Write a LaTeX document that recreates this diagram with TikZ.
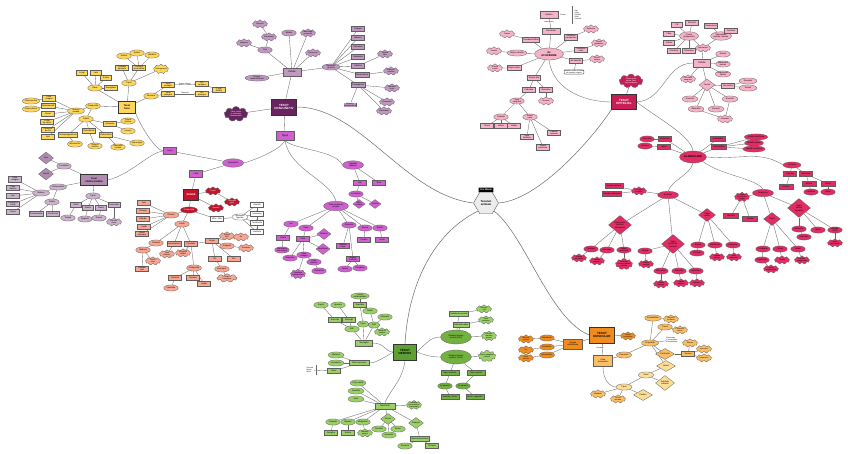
\documentclass[tikz,border=0pt]{standalone}
\usepackage{fontspec}
\setmainfont{Liberation Sans}
\usetikzlibrary{shapes.geometric,shapes.symbols,shapes.misc,arrows.meta}
\definecolor{bord}{RGB}{95,95,95}
\definecolor{linec}{RGB}{105,105,105}
\definecolor{yel}{RGB}{255,214,92}
\definecolor{lav}{RGB}{205,178,205}
\definecolor{lavm}{RGB}{175,140,175}
\definecolor{conj}{RGB}{105,35,95}
\definecolor{mauve}{RGB}{192,152,192}
\definecolor{mag}{RGB}{208,95,208}
\definecolor{redc}{RGB}{195,20,45}
\definecolor{sal}{RGB}{248,165,145}
\definecolor{pnk}{RGB}{246,178,198}
\definecolor{crim}{RGB}{200,30,85}
\definecolor{glan}{RGB}{225,45,100}
\definecolor{grn}{RGB}{155,208,105}
\definecolor{grnM}{RGB}{115,178,65}
\definecolor{grnD}{RGB}{95,160,50}
\definecolor{org}{RGB}{240,140,30}
\definecolor{lorg}{RGB}{252,190,100}
\definecolor{porg}{RGB}{253,222,150}
\definecolor{hexf}{RGB}{236,236,236}
\pgfdeclarelayer{bg}
\pgfsetlayers{bg,main}
\newcommand\nn[4]{\node[#1] (#2) at (#3) {#4};}
\newcommand\Edges[1]{\begin{pgfonlayer}{bg}\foreach \a/\b in {#1} \draw[conn] (\a) -- (\b);\end{pgfonlayer}}
\tikzset{
  nd/.style={draw=bord, line width=0.3pt, font=\fontsize{2.1}{2.4}\selectfont, align=center, inner xsep=0.8pt, inner ysep=0.5pt},
  bx/.style={nd, rectangle, minimum width=13, minimum height=5},
  el/.style={nd, ellipse, inner xsep=0pt, inner ysep=0pt, minimum width=14.5, minimum height=6.2},
  cl/.style={nd, cloud, cloud puffs=9, aspect=2.2, inner sep=-0.7pt, minimum width=15, minimum height=8.5, font=\fontsize{1.9}{2.1}\selectfont},
  dm/.style={nd, diamond, aspect=1.4, inner sep=0pt, minimum width=12, minimum height=9},
  mn/.style={draw=black!80, line width=0.5pt, font=\fontsize{3}{3.4}\selectfont\bfseries, align=center, minimum width=22, minimum height=14, inner sep=0.8pt},
  conn/.style={draw=linec, line width=0.35pt},
  bigc/.style={draw=linec, line width=0.5pt},
  note/.style={font=\fontsize{1.8}{2.1}\selectfont, align=left, inner sep=0.3pt},
  yf/.style={fill=yel}, lf/.style={fill=lav}, pf/.style={fill=mauve}, mf/.style={fill=mag},
  rf/.style={fill=redc,text=white}, sf/.style={fill=sal}, kf/.style={fill=pnk}, gf/.style={fill=glan},
  nf/.style={fill=grn}, nmf/.style={fill=grnM}, of/.style={fill=org}, lof/.style={fill=lorg}, pof/.style={fill=porg},
  wf/.style={fill=white},
}
\begin{document}
\begin{tikzpicture}[x=1bp,y=-1bp]
\useasboundingbox (0,0) rectangle (848,454);
\begin{pgfonlayer}{bg}
\fill[white] (0,0) rectangle (848,454);
\end{pgfonlayer}

% ---------- centre ----------
\node[fill=black, text=white, font=\fontsize{2.4}{2.8}\selectfont\bfseries, inner sep=1pt, minimum width=15, minimum height=5, rounded corners=0.6] (tag) at (486,190) {Vox Mania};
\node[regular polygon, regular polygon sides=6, draw=bord, fill=hexf, minimum size=25, inner sep=0pt, font=\fontsize{2.8}{3.2}\selectfont\bfseries, align=center, line width=0.4pt] (hx) at (486,203) {Tesuturi\\animale};

% ---------- main nodes ----------
\nn{mn,fill=conj,text=white,minimum width=25,minimum height=16}{p0}{284,107}{TESUT\\CONJUNCTIV}
\nn{mn,fill=crim,text=white,minimum width=25,minimum height=15}{e0}{624,102}{TESUT\\EPITELIAL}
\nn{mn,fill=grnD,text=black,minimum width=23,minimum height=16}{n0}{405,352}{TESUT\\NERVOS}
\nn{mn,fill=org,text=black,minimum width=25,minimum height=16}{o0}{602,335}{TESUT\\MUSCULAR}

\begin{pgfonlayer}{bg}
\draw[bigc] (p0.east) .. controls (360,107) and (405,195) .. (hx.west);
\draw[bigc] (e0.south west) .. controls (595,135) and (540,200) .. (hx.east);
\draw[bigc] (hx.south west) .. controls (430,235) and (408,290) .. (n0.north);
\draw[bigc] (hx.south east) .. controls (525,235) and (550,320) .. (o0.west);
\end{pgfonlayer}

% ---------- conjunctiv ----------
\nn{cl,fill=conj,text=white,minimum width=24,minimum height=15}{pc}{236,114}{Fibre, celule\\si substanta\\fundamentala}
\nn{bx,pf,minimum width=18,minimum height=8,font=\fontsize{2.6}{3}\selectfont}{p1}{292,72}{Celule}
\nn{el,pf}{p2}{265,50}{Fixe}
\nn{cl,pf}{p3}{269,37}{Fibroblaste}
\nn{cl,pf}{p4}{260,24}{Fibrocite}
\nn{cl,pf}{p5}{244,43}{Adipocite}
\nn{el,pf}{p6}{289,33}{Mobile}
\nn{cl,pf}{p7}{308,33}{Macrofage\\mastocite}
\nn{cl,pf}{p8}{313,53}{Plasmocite}
\nn{el,pf,minimum width=24}{p9}{257,78}{Origine\\mezenchimala}
\nn{el,pf,minimum width=18}{p10}{331,67}{Elemente\\de baza}
\nn{bx,pf}{p11}{358,29}{Colagen}
\nn{bx,pf}{p12}{358,38}{Elastice}
\nn{bx,pf}{p13}{358,47}{Reticulare}
\nn{bx,pf}{p14}{358,57}{Substanta}
\nn{bx,pf}{p15}{358,66}{Fibrilina}
\nn{bx,pf}{p16}{362,75}{Glicoproteine}
\nn{bx,pf}{p17}{358,85}{Proteoglicani}
\nn{cl,pf}{p18}{385,54}{Sinteza\\fibre}
\nn{cl,pf}{p19}{391,71}{Adeziune\\celulara}
\nn{cl,pf}{p20}{392,88}{Hidratare\\tesut}
\nn{cl,pf}{p21}{387,102}{Rezistenta}
\nn{cl,pf}{p22}{384,111}{Elasticitate}
\nn{bx,pf,double,double distance=0.4pt}{p23}{350,105}{Matrice\\extracelulara}
\Edges{p0/pc,p0/p1,p1/p2,p2/p3,p3/p4,p2/p5,p1/p6,p1/p7,p1/p8,p1/p9,p1/p10,p10/p11,p10/p12,p10/p13,p10/p14,p10/p15,p10/p16,p10/p17,p15/p18,p16/p19,p17/p20,p17/p21,p17/p22,p17/p23}

% ---------- tipuri (magenta) ----------
\nn{bx,mf,minimum width=18,minimum height=9,font=\fontsize{2.6}{3}\selectfont}{m0}{285,136}{Tipuri}
\nn{el,mf,minimum width=21,minimum height=8.5}{m1}{233,163}{Specializat}
\nn{bx,mf,minimum height=7}{m2}{170,151}{Tipuri}
\nn{bx,mf,minimum height=7}{m3}{196,174}{Fluid}
\nn{el,mf,minimum width=21,minimum height=8.5}{m4}{353,165}{Semidur\\(adipos)}
\nn{bx,mf}{m5}{360,183}{Alb}
\nn{bx,mf}{m6}{379,183}{Brun}
\nn{el,mf}{m7}{356,194}{Localizare}
\nn{dm,mf}{m8}{359,204}{Sub-\\cutanat}
\nn{dm,mf}{m9}{375,204}{Viscere}
\nn{el,mf,minimum width=25,minimum height=9.5}{m10}{336,206}{Tesut conjunctiv\\propriu}
\nn{el,mf}{m11}{291,224}{Lax}
\nn{el,mf}{m12}{306,228}{Dens}
\nn{dm,mf,minimum width=14,minimum height=11}{m13}{324,234}{Ordonat}
\nn{dm,mf,minimum width=14,minimum height=11}{m14}{323,249}{Neordonat}
\nn{bx,mf}{m15}{303,239}{Fibre}
\nn{bx,mf}{m16}{283,238}{Celule}
\nn{el,mf}{m17}{282,250}{Fibroblaste\\macrofage}
\nn{el,mf}{m18}{290,258}{Mastocite}
\nn{el,mf}{m19}{304,255}{Fibre\\colagen}
\nn{el,mf}{m20}{314,262}{Fibre\\elastice}
\nn{cl,mf}{m21}{298,274}{Substanta\\fundamentala}
\nn{el,mf}{m22}{319,271}{Reticulina}
\nn{el,mf}{m23}{349,225}{Reticulat}
\nn{bx,mf}{m24}{343,246}{Maduva\\rosie}
\nn{bx,mf}{m25}{353,259}{Organe\\limfoide}
\nn{el,mf}{m26}{345,269}{Splina}
\nn{el,mf}{m27}{360,268}{Ganglioni}
\nn{el,mf}{m28}{365,228}{Mucos}
\nn{bx,mf}{m29}{364,240}{Cordon}
\nn{el,mf}{m30}{380,228}{Elastic}
\nn{bx,mf}{m31}{382,240}{Aorta}
\Edges{p0/m0,m1/m2,m1/m3,m4/m5,m4/m6,m5/m7,m7/m8,m7/m9,m10/m11,m10/m12,m10/m23,m10/m28,m10/m30,m11/m16,m16/m17,m12/m15,m15/m13,m15/m14,m15/m18,m15/m19,m19/m20,m19/m21,m20/m22,m23/m24,m23/m25,m25/m26,m25/m27,m28/m29,m30/m31}
\begin{pgfonlayer}{bg}
\draw[conn] (m0.south) .. controls (280,150) and (255,160) .. (m1.east);
\draw[conn] (m0.south) .. controls (295,150) and (335,150) .. (m4.west);
\draw[conn] (m0.south) .. controls (290,170) and (330,180) .. (m10.north);
\end{pgfonlayer}

% ---------- osos (yellow) ----------
\nn{mn,fill=yel,minimum width=17,minimum height=12,font=\fontsize{2.5}{2.9}\selectfont\bfseries}{y0}{127,107}{Tesut\\Osos}
\nn{el,yf}{y1}{129,83}{Tipuri}
\nn{bx,yf}{y2}{122,68}{Osificare\\desmala}
\nn{bx,yf}{y3}{139,68}{Osificare\\encondrala}
\nn{cl,yf}{y4}{161,69}{Osteogeneza}
\nn{el,yf}{y5}{124,56}{Diafiza}
\nn{el,yf}{y6}{137,53}{Epifiza}
\nn{el,yf}{y7}{152,55}{Metafiza}
\nn{el,yf}{y8}{95,88}{Oase}
\nn{bx,yf,minimum width=11}{y9}{82,73}{Lungi}
\nn{bx,yf,minimum width=11}{y10}{96,73}{Late}
\nn{bx,yf,minimum width=11}{y11}{106,78}{Scurte}
\nn{bx,yf}{y12}{111,88}{Neregulate}
\nn{el,yf}{y13}{151,96}{Structura}
\nn{bx,yf}{y14}{168,85}{Tesut\\compact}
\nn{bx,yf}{y15}{168,94}{Tesut\\spongios}
\nn{bx,yf}{y16}{202,84}{Os\\compact}
\nn{bx,yf}{y17}{202,94}{Os\\spongios}
\nn{bx,yf}{y18}{219,90}{F. epif.\\diafiza}
\nn{el,yf}{y20}{93,106}{Compozitie}
\nn{el,yf,minimum width=17}{y21}{76,111}{Matrice\\osoasa}
\nn{bx,yf}{y22}{49,98}{Fibre\\colagen}
\nn{bx,yf}{y23}{48,106}{Osteomucoid}
\nn{bx,yf}{y24}{48,114}{Saruri}
\nn{bx,yf}{y25}{47,122}{Fosfat\\de calciu}
\nn{bx,yf}{y26}{48,129.5}{Carbonat\\de Ca}
\nn{bx,yf}{y27}{48,137}{Apa}
\nn{el,yf}{y28}{31,101}{Osteonectina}
\nn{el,yf}{y29}{31,109}{Osteocalcina}
\nn{el,yf}{y30}{86,119}{Celule}
\nn{bx,yf}{y31}{110,124}{Osteocite}
\nn{bx,yf,minimum width=18}{y32}{68,135}{Osteoprogenitoare}
\nn{bx,yf}{y33}{89,131}{Osteoblaste}
\nn{bx,yf}{y34}{106,135}{Osteoclaste}
\nn{el,yf}{y35}{128,121}{Celule\\mature}
\nn{el,yf}{y36}{128,131}{Lacune}
\nn{el,yf}{y37}{75,144}{Mezenchim}
\nn{el,yf}{y38}{95,146}{Sinteza\\matrice}
\nn{el,yf}{y39}{118,147}{Resorbtie\\osoasa}
\nn{el,yf}{y40}{137,143}{Macrofage}
\Edges{y0/y1,y1/y2,y1/y3,y1/y4,y3/y5,y3/y6,y3/y7,y0/y8,y8/y9,y8/y10,y8/y11,y8/y12,y0/y13,y13/y14,y13/y15,y16/y18,y17/y18,y0/y20,y20/y21,y21/y22,y21/y23,y21/y24,y21/y25,y21/y26,y21/y27,y22/y28,y23/y29,y20/y30,y30/y31,y30/y32,y30/y33,y30/y34,y31/y35,y31/y36,y32/y37,y33/y38,y34/y39,y34/y40}
\begin{pgfonlayer}{bg}
\draw[conn] (y0.south east) .. controls (140,125) and (155,150) .. (m2.west);
\end{pgfonlayer}
\draw[conn,-{Stealth[length=1.5pt]}] (y14) -- node[above,note]{Sistem Havers} (y16);
\draw[conn,-{Stealth[length=1.5pt]}] (y15) -- node[above,note]{Trabecule} (y17);

% ---------- cartilaginos (lavender) ----------
\nn{mn,fill=lavm,minimum width=27,minimum height=11,font=\fontsize{2.3}{2.7}\selectfont\bfseries}{l0}{94,180}{Tesut\\CARTILAGINOS}
\nn{el,lf}{l1}{64,166}{Localizare}
\nn{dm,fill=lavm,minimum width=15,minimum height=12}{l2}{46,158}{Nas}
\nn{dm,fill=lavm,minimum width=15,minimum height=12}{l3}{46,174}{Urechi}
\nn{el,lf,minimum width=17}{l4}{58,187}{Componente}
\nn{el,lf,minimum width=17}{l5}{41,193}{Matrice}
\nn{bx,lf}{l6}{15,179}{Fibre\\colagen}
\nn{bx,lf}{l7}{13,188}{Fibre\\elastice}
\nn{bx,lf}{l8}{13,196}{Apa}
\nn{bx,lf}{l9}{13,204}{Condroitin-\\sulfat}
\nn{bx,lf}{l10}{13,212}{Saruri}
\nn{el,lf}{l11}{52,202}{Celule}
\nn{bx,lf}{l12}{36,214}{Condroblaste}
\nn{bx,lf}{l13}{53,214}{Condrocite}
\nn{el,lf}{l14}{93,196}{Tipuri}
\nn{bx,lf,minimum width=11}{l15}{76,205}{Hialin}
\nn{bx,lf,minimum width=11}{l16}{88,208}{Elastic}
\nn{bx,lf,minimum width=11}{l17}{101,208}{Fibros}
\nn{bx,lf,minimum width=11}{l18}{114,205}{Pericondru}
\nn{el,lf}{l19}{68,218}{Trahee}
\nn{el,lf}{l20}{85,219}{Epiglota}
\nn{el,lf}{l21}{99,218}{Discuri}
\nn{cl,lf}{l22}{114,222}{Vascula-\\rizatie}
\Edges{l0/l1,l1/l2,l1/l3,l0/l4,l4/l5,l5/l6,l5/l7,l5/l8,l5/l9,l5/l10,l4/l11,l11/l12,l11/l13,l0/l14,l14/l15,l14/l16,l14/l17,l14/l18,l15/l19,l16/l20,l17/l21,l18/l22}
\begin{pgfonlayer}{bg}
\draw[conn] (l0.east) .. controls (130,175) and (150,152) .. (m2.west);
\end{pgfonlayer}

% ---------- sange (red / salmon / white) ----------
\nn{mn,fill=redc,text=white,minimum width=15,minimum height=11,font=\fontsize{2.5}{2.9}\selectfont\bfseries}{r0}{191,195}{SANGE}
\nn{cl,fill=redc,text=white}{r1}{213,191}{Functii}
\nn{cl,fill=redc,text=white}{r2}{232,202}{Transport\\gaze}
\nn{cl,fill=redc,text=white}{r3}{216,208}{Aparare}
\nn{el,fill=redc,text=white,minimum width=17}{r4}{189,210}{Compozitie}
\nn{el,wf,minimum width=16}{w0}{240,217}{Elemente\\figurate}
\nn{bx,wf}{w1}{217,219}{55\% / 45\%}
\nn{bx,wf}{w2}{257,205}{Hematii}
\nn{bx,wf}{w3}{257,214}{Leucocite}
\nn{bx,wf}{w4}{257,223}{Trombocite}
\nn{bx,wf}{w5}{257,232}{Limfocite}
\nn{el,sf,minimum width=16}{s0}{171,215}{Plasma}
\nn{bx,sf}{s1}{144,203}{Apa}
\nn{bx,sf}{s2}{143,211}{Proteine}
\nn{bx,sf}{s3}{143,219}{Glucide}
\nn{bx,sf}{s4}{144,227}{Lipide}
\nn{bx,sf}{s5}{142,234}{Saruri\\minerale}
\nn{el,sf}{s6}{182,224}{Limfa}
\nn{el,sf}{s7}{156,243}{Formare}
\nn{bx,sf}{s8}{174,244}{Hematopoeza}
\nn{bx,sf}{s9}{191,244}{Circulatie}
\nn{bx,sf}{s10}{212,241}{Grupe}
\nn{el,sf}{s11}{143,250}{Maduva}
\nn{cl,sf}{s12}{153,261}{Celule\\stem}
\nn{bx,sf}{s13}{142,269}{Globule\\rosii}
\nn{cl,sf}{s14}{167,254}{Vase\\limfatice}
\nn{cl,sf}{s15}{183,253}{Ganglioni\\limfatici}
\nn{el,sf}{s16}{194,268}{Compozitie}
\nn{bx,sf}{s17}{175,278}{Limfocite}
\nn{bx,sf}{s18}{193,278}{Proteine}
\nn{bx,sf}{s19}{204,284}{Lipide}
\nn{el,sf}{s20}{171,288}{Imunitate}
\nn{cl,sf}{s21}{227,236}{Sistem\\AB0}
\nn{cl,sf}{s22}{241,237}{Rh}
\nn{cl,sf}{s23}{246,248}{Transfuzie}
\nn{el,sf}{s24}{227,246}{Antigene}
\nn{bx,sf}{s25}{234,259}{Rh+}
\nn{bx,sf}{s26}{215,259}{Rh-}
\nn{el,sf}{s27}{222,269}{Incompat.}
\nn{cl,sf,minimum width=20}{s28}{227,278}{Boala\\hemolitica}
\Edges{m3/r0,r0/r1,r0/r3,r1/r2,r0/r4,r4/s0,r4/w1,w1/w0,w0/w2,w0/w3,w0/w4,w0/w5,s0/s1,s0/s2,s0/s3,s0/s4,s0/s5,r4/s6,s6/s7,s6/s8,s6/s9,s9/s10,s10/s21,s10/s22,s10/s24,s24/s23,s7/s11,s11/s12,s11/s13,s8/s14,s9/s15,s9/s16,s16/s17,s16/s18,s16/s19,s17/s20,s10/s25,s10/s26,s26/s27,s27/s28}
\draw[conn,-{Stealth[length=1.2pt]}] (w2) -- (w3);
\draw[conn,-{Stealth[length=1.2pt]}] (w3) -- (w4);
\draw[conn,-{Stealth[length=1.2pt]}] (w4) -- (w5);

% ---------- epitelial ----------
\nn{cl,fill=crim,text=white,minimum width=24,minimum height=14}{ec}{631,81}{Celule unite\\strans, fara\\vase sanguine}
\nn{el,kf,minimum width=29,minimum height=12,font=\fontsize{2.6}{3}\selectfont\bfseries}{k0}{549,54}{de\\ACOPERIRE}
\nn{bx,kf,minimum width=18,minimum height=6}{k1}{551,31}{Clasificare}
\nn{bx,kf,minimum width=18,minimum height=7}{k2}{549,15}{Epiteliu}
\node[note] (k2b) at (549,22) {dupa forma};
\node[note] (k3a) at (563,15) {Forma};
\node[note] (k3) at (578,15) {Plat\\Cubic\\Cilindric\\Ciliat\\Tranzitie};
\draw[conn] (572,6) -- (572,24);
\nn{bx,kf}{k4}{531,40}{Pseudostratificat}
\nn{cl,kf}{k5}{507,34}{Trahee}
\nn{el,kf,minimum width=17}{k6}{517,53}{Simplu cilindric}
\nn{cl,kf}{k7}{494,51}{Intestin}
\nn{bx,kf}{k8}{514,68}{Simplu cubic}
\nn{cl,kf}{k9}{495,68}{Glanda\\tiroida}
\nn{bx,kf}{k10}{571,37}{Stratificat\\pavimentos}
\nn{cl,kf}{k11}{591,29}{Epiderma}
\nn{bx,kf}{k12}{581,50}{Stratificat\\cubic}
\nn{cl,kf}{k13}{599,43}{Canale\\glandulare}
\nn{bx,kf}{k14}{576,61}{de tranzitie}
\nn{cl,kf}{k15}{597,59}{Vezica\\urinara}
\node[note,draw=bord,rounded corners=1pt,fill=white,align=center] (k16) at (574,72) {Uroteliu: celule in forma\\de umbrela, cupola};
\nn{bx,kf}{k17}{534,78}{Simplu plat}
\nn{bx,kf}{k18}{529,90}{Endoteliu}
\nn{bx,kf}{k19}{546,90}{Mezoteliu}
\nn{el,kf}{k20}{517,101}{Vase\\sanguine}
\nn{cl,kf}{k21}{546,101}{Seroase}
\nn{el,kf}{k22}{501,117}{Capilare}
\nn{el,kf}{k23}{530,117}{Artere\\vene}
\nn{bx,kf}{k24}{487,126}{Tunica}
\nn{bx,kf}{k25}{501,126}{Intima}
\nn{bx,kf}{k26}{514,126}{Media}
\nn{bx,kf}{k27}{527,137}{Vase\\limfatice}
\nn{bx,kf}{k28}{554,133}{Cavitati\\seroase}
\nn{bx,kf}{k29}{543,147}{Pleura\\peritoneu}
\Edges{e0/ec,k0/k1,k1/k2,k0/k4,k4/k5,k0/k6,k6/k7,k0/k8,k8/k9,k0/k10,k10/k11,k0/k12,k12/k13,k0/k14,k14/k15,k14/k16,k0/k17,k17/k18,k17/k19,k18/k20,k19/k21,k20/k22,k20/k23,k22/k24,k22/k25,k22/k26,k23/k27,k23/k28,k23/k29}
\begin{pgfonlayer}{bg}
\draw[conn] (k0.south) .. controls (553,90) and (585,102) .. (e0.west);
\end{pgfonlayer}

% ---------- epitelial celule ----------
\nn{bx,kf,minimum width=17,minimum height=8.5,font=\fontsize{2.6}{3}\selectfont}{q0}{702,63}{Celule}
\nn{el,kf,minimum width=19,minimum height=8.5}{q1}{689,36}{Forma\\(poligonale)}
\nn{cl,kf}{q2}{703,48}{Specializari}
\nn{el,kf,minimum width=21,minimum height=8.5}{q3}{721,36}{Specializari\\apicale, laterale}
\nn{bx,kf,minimum width=11}{q4}{677,25}{Cili}
\nn{bx,kf}{q5}{692,23}{Microvili}
\nn{bx,kf,minimum width=11}{q6}{669,34}{Plate}
\nn{bx,kf,minimum width=11}{q7}{669,43}{Cubice}
\nn{bx,kf}{q8}{674,51}{Cilindrice}
\nn{bx,kf}{q9}{689,51}{Prismatice}
\nn{bx,kf}{q10}{711,26}{Desmozomi}
\nn{bx,kf}{q11}{731,31}{Jonctiuni}
\nn{el,kf}{q12}{723,54}{Nucleu}
\nn{el,kf}{q13}{723,64}{Membrana\\bazala}
\nn{el,kf}{q14}{723,74}{Regenerare\\rapida}
\nn{cl,kf}{q15}{688,79}{Fara vase\\sanguine}
\nn{dm,kf,minimum width=16,minimum height=12}{q16}{707,85}{Functii}
\nn{bx,kf}{q17}{728,86}{Senzoriala}
\nn{el,kf,minimum width=18}{q18}{748,81}{Receptie}
\nn{el,kf,minimum width=18}{q19}{748,88}{Stimuli}
\nn{el,kf,minimum width=16}{q20}{690,99}{Protectie}
\nn{el,kf,minimum width=16}{q21}{696,109}{Absorbtie}
\nn{el,kf,minimum width=16}{q22}{716,109}{Secretie}
\nn{el,kf,minimum width=16}{q23}{730,99}{Excretie}
\nn{cl,kf}{q24}{725,119}{Schimburi}
\Edges{q0/q2,q2/q1,q2/q3,q1/q4,q1/q5,q1/q6,q1/q7,q1/q8,q1/q9,q3/q10,q3/q11,q0/q12,q0/q13,q0/q14,q0/q15,q0/q16,q16/q17,q17/q18,q17/q19,q16/q20,q16/q21,q16/q22,q16/q23,q23/q24,q21/q24}
\begin{pgfonlayer}{bg}
\draw[conn] (e0.east) .. controls (665,100) and (665,63) .. (q0.west);
\end{pgfonlayer}

% ---------- glandulare ----------
\nn{el,gf,minimum width=27,minimum height=12,font=\fontsize{2.6}{3}\selectfont\bfseries}{g0}{693,157}{GLANDULARE}
\nn{el,gf}{g1}{647,139}{Mucoase}
\nn{bx,gf}{g2}{665,139}{Endocrine}
\nn{el,gf}{g3}{645,146}{Hormoni}
\nn{bx,gf}{g4}{664,147}{Mixte}
\nn{bx,gf,minimum width=15}{g5}{718,139}{Unicelulare}
\nn{bx,gf,minimum width=15}{g6}{719,147}{Pluricelulare}
\nn{el,gf,minimum width=18}{g7}{756,137}{Celule caliciforme}
\nn{el,gf,minimum width=18}{g8}{754,143}{Glande simple}
\nn{el,gf,minimum width=18}{g9}{754,149}{Glande compuse}
\nn{el,gf,minimum width=18}{g10}{792,165}{Secretie}
\nn{bx,gf}{g11}{790,174}{Seroasa}
\nn{bx,gf}{g12}{806,174}{Mucoasa}
\nn{bx,gf,minimum width=14}{g13}{786,187}{Enzime}
\nn{bx,gf,minimum width=14}{g14}{809,184}{Mucus}
\nn{bx,gf,minimum width=14}{g15}{828,184}{Mixta}
\nn{el,gf}{g16}{811,192}{Lubrifiere}
\nn{el,gf}{g17}{828,192}{Saliva}
\nn{el,gf,minimum width=21,minimum height=7.5}{g18}{668,195}{Exocrine}
\nn{cl,gf}{g19}{639,191}{Cu canal\\excretor}
\nn{bx,gf,minimum width=18}{g20}{614,186}{Glande salivare}
\nn{bx,gf,minimum width=18}{g21}{612,194}{Glande sudoripare}
\nn{dm,gf,minimum width=23,minimum height=19}{g23}{620,225}{Dupa forma\\portiunii\\secretoare}
\nn{el,gf}{g24}{591,249}{Tubulare}
\nn{el,gf}{g25}{607,250}{Acinoase}
\nn{el,gf}{g26}{624,250}{Tubulo-\\acinoase}
\nn{cl,gf}{g27}{579,258}{Glande\\intestinale}
\nn{cl,gf}{g28}{597,261}{Glande\\sebacee}
\nn{cl,gf}{g29}{624,264}{Pancreas\\exocrin, glande\\salivare}
\nn{dm,gf,minimum width=23,minimum height=19}{g30}{673,244}{Dupa\\modul de\\secretie}
\nn{el,gf}{g31}{661,271}{Merocrine}
\nn{el,gf}{g32}{679,271}{Apocrine}
\nn{el,gf}{g33}{696,271}{Holocrine}
\nn{cl,gf}{g34}{661,284}{Glande\\salivare}
\nn{cl,gf}{g35}{681,283}{Glanda\\mamara}
\nn{cl,gf}{g36}{697,283}{Sebacee}
\nn{el,gf}{g37}{645,251}{Simple}
\nn{cl,gf}{g38}{646,264}{Glande\\fundice}
\nn{dm,gf,minimum width=17,minimum height=13}{g39}{707,215}{Dupa\\canal}
\nn{el,gf}{g40}{698,245}{Simple}
\nn{el,gf}{g41}{715,245}{Ramificate}
\nn{el,gf}{g42}{733,245}{Compuse}
\nn{el,gf}{g43}{697,253}{Stomac}
\nn{cl,gf}{g44}{717,257}{Glande\\pilorice}
\nn{cl,gf}{g45}{734,257}{Ficat,\\pancreas}
\nn{el,gf,minimum width=21,minimum height=7.5}{g46}{763,193}{Endocrine}
\nn{cl,gf}{g47}{742,197}{Secreta\\hormoni in\\sange}
\nn{bx,gf,minimum width=15}{g48}{731,216}{Hipofiza}
\nn{bx,gf,minimum width=15}{g49}{750,219}{Tiroida}
\nn{dm,gf,minimum width=17,minimum height=13}{g50}{772,219}{Tipuri}
\nn{el,gf}{g51}{763,249}{Cordoane}
\nn{el,gf}{g52}{780,249}{Foliculi}
\nn{el,gf}{g53}{798,249}{Insule}
\nn{el,gf}{g54}{762,260}{Paratiroide}
\nn{cl,gf}{g55}{782,260}{Tiroida}
\nn{cl,gf}{g56}{802,260}{Insulele\\Langerhans}
\nn{cl,gf}{g57}{771,269}{Cortico-\\suprarenala}
\nn{dm,gf,minimum width=23,minimum height=19}{g58}{799,208}{Dupa\\natura\\secretiei}
\nn{el,gf}{g59}{799,229}{Amfocrine}
\nn{el,gf}{g60}{818,230}{Mixte}
\nn{el,gf}{g61}{835,230}{Glande\\mixte}
\nn{el,gf}{g62}{804,237}{Pancreas}
\nn{cl,gf}{g63}{835,243}{Ficatul,\\pancreasul}
\Edges{g0/g2,g2/g1,g0/g4,g4/g3,g0/g5,g0/g6,g6/g7,g6/g8,g6/g9,g10/g11,g10/g12,g11/g13,g12/g14,g12/g15,g14/g16,g15/g17,g18/g19,g19/g20,g19/g21,g18/g23,g23/g24,g23/g25,g23/g26,g24/g27,g25/g28,g26/g29,g18/g30,g30/g31,g30/g32,g30/g33,g30/g37,g31/g34,g32/g35,g33/g36,g37/g38,g18/g39,g39/g40,g39/g41,g39/g42,g40/g43,g41/g44,g42/g45,g46/g47,g47/g48,g47/g49,g46/g50,g50/g51,g50/g52,g50/g53,g51/g54,g52/g55,g53/g56,g54/g57,g46/g58,g58/g59,g58/g60,g58/g61,g59/g62,g61/g63}
\begin{pgfonlayer}{bg}
\draw[conn] (e0.east) .. controls (660,120) and (690,135) .. (g0.north);
\draw[conn] (g0.south) .. controls (690,175) and (672,180) .. (g18.north);
\draw[conn] (g0.south east) .. controls (720,175) and (755,178) .. (g46.north);
\draw[conn] (g0.east) .. controls (740,160) and (760,150) .. (g10.west);
\end{pgfonlayer}

% ---------- nervos (green) ----------
\nn{bx,nf,minimum width=17,minimum height=6.5}{n1}{364,343}{Nevroglia}
\nn{el,nf}{n2}{352,329}{SNC}
\nn{el,nf,minimum width=12}{n3}{363,324}{Tipuri}
\nn{el,nf,minimum width=12}{n4}{374,325}{SNP}
\nn{el,nf}{n5}{385,317}{Schwann}
\nn{el,nf}{n6}{370,311}{Satelit}
\nn{cl,nf}{n7}{382,332}{Teaca de\\mielina}
\nn{bx,nf}{n8}{335,320}{Astrocite}
\nn{bx,nf}{n9}{349,320}{Microglii}
\nn{el,nf}{n10}{321,305}{Suport}
\nn{el,nf}{n11}{338,305}{Aparare}
\nn{bx,nf}{n12}{360,305}{Ependim}
\nn{el,nf,minimum width=15}{n13}{360,296}{Lichid\\cefalorahidian}
\nn{bx,nf,minimum width=20}{n14}{359,363}{Fibra nervoasa}
\nn{el,nf,minimum width=16}{n15}{336,355}{Mielinica}
\nn{el,nf,minimum width=16}{n16}{336,363}{Amielinica}
\nn{bx,nf}{n17}{334,371}{Nervi}
\node[note] (n18) at (310,370) {Senzitivi\\Motori\\Micsti};
\draw[conn] (316,365) -- (316,375);
\nn{el,nmf,minimum width=31,minimum height=14}{n19}{456,337}{Sistemul nervos\\central (SNC)}
\nn{el,nmf,minimum width=31,minimum height=14}{n20}{456,357}{Sistemul nervos\\periferic (SNP)}
\nn{bx,nf,minimum width=16}{n21}{459,314}{Substanta cenusie}
\nn{bx,nf,minimum width=16}{n22}{461,325}{Substanta alba}
\nn{cl,nf}{n23}{484,309}{Neuroni\\+ glii}
\nn{cl,nf}{n24}{486,320}{Fibre\\mielinice}
\nn{cl,nf}{n25}{489,336}{Encefal,\\maduva\\spinarii}
\nn{cl,nf}{n26}{487,356}{Nervi, ganglioni\\nervosi}
\nn{bx,nmf,minimum width=18}{n27}{450,373}{Nervi cranieni}
\nn{bx,nmf,minimum width=18}{n28}{476,373}{Nervi spinali}
\nn{el,nmf}{n29}{445,386}{12 perechi}
\nn{el,nmf}{n30}{463,386}{31 perechi}
\nn{bx,nmf,minimum width=18}{n31}{450,397}{Senzitivi, motori}
\nn{bx,nmf,minimum width=18}{n32}{475,397}{Micsti, vegetativi}
\nn{bx,nf,minimum width=20,minimum height=6.5,font=\fontsize{2.4}{2.8}\selectfont}{n33}{385,406}{Neuronul}
\nn{el,nf,minimum width=16}{n34}{358,383}{Corp celular}
\nn{el,nf,minimum width=16}{n35}{356,391}{Dendrite}
\nn{el,nf,minimum width=16}{n36}{356,399}{Axon}
\nn{cl,nf}{n37}{414,405}{Unitatea\\structurala si\\functionala}
\nn{el,nf}{n38}{333,422}{Unipolari}
\nn{el,nf}{n39}{348,422}{Bipolari}
\nn{el,nf}{n40}{363,422}{Multipolari}
\nn{bx,nf}{n41}{331,433}{Ganglion}
\nn{bx,nf}{n42}{348,433}{Retina}
\nn{cl,nf}{n43}{365,433}{Maduva\\spinarii}
\nn{dm,nf,minimum width=15,minimum height=11}{n44}{388,419}{Functii}
\nn{el,nf}{n45}{379,429}{Senzitivi}
\nn{el,nf}{n46}{398,429}{Motori}
\nn{el,nf}{n47}{389,435}{Asociativi}
\nn{dm,nf,minimum width=15,minimum height=11}{n48}{416,423}{Sinapsa}
\nn{bx,nf,minimum width=18}{n49}{420,439}{Neurotransmitatori}
\nn{el,nf}{n50}{405,446}{Electrica}
\nn{bx,nf}{n52}{432,446}{Chimica}
\Edges{n1/n2,n2/n8,n2/n9,n8/n10,n9/n11,n1/n3,n3/n12,n12/n13,n1/n4,n4/n6,n4/n5,n4/n7,n14/n15,n14/n16,n14/n17,n19/n21,n19/n22,n21/n23,n22/n24,n19/n25,n20/n26,n20/n27,n20/n28,n27/n29,n28/n30,n29/n31,n30/n32,n33/n34,n33/n35,n33/n36,n33/n37,n33/n38,n33/n39,n33/n40,n38/n41,n39/n42,n40/n43,n33/n44,n44/n45,n44/n46,n44/n47,n33/n48,n48/n49,n49/n50,n49/n52}
\draw[conn] (n17) -- (n18);
\begin{pgfonlayer}{bg}
\draw[conn] (n0.west) .. controls (385,352) and (385,343) .. (n1.east);
\draw[conn] (n0.west) .. controls (380,360) and (375,363) .. (n14.east);
\draw[conn] (n0.east) .. controls (425,345) and (430,337) .. (n19.west);
\draw[conn] (n0.east) .. controls (425,355) and (430,357) .. (n20.west);
\draw[conn] (n0.south) .. controls (403,380) and (390,390) .. (n33.north);
\end{pgfonlayer}

% ---------- muscular (orange) ----------
\nn{bx,of,minimum width=19,minimum height=9.5}{o1}{573,344}{Origine\\embrionara}
\nn{el,of}{o2}{547,338}{Mezoderm}
\nn{el,of}{o3}{547,347}{Ectoderm}
\nn{el,of}{o4}{547,355}{Mezenchim}
\nn{cl,of}{o5}{526,339}{Miotomi\\somitici}
\nn{cl,of}{o6}{526,350}{Iris}
\nn{cl,of}{o7}{526,358}{Vase,\\viscere}
\nn{cl,of}{o8}{628,336}{Celule\\contractile}
\nn{bx,lof,minimum width=19,minimum height=11}{o9}{603,361}{Fibra\\musculara}
\node[note] (o9a) at (600,348) {Unitatea};
\nn{el,lof,minimum width=15}{o10}{624,355}{Sarcomer}
\nn{el,lof,minimum width=17}{o11}{650,343}{Proprietati}
\nn{el,lof}{o12}{653,318}{Excitabilitate}
\nn{el,lof}{o13}{665,327}{Tonus}
\nn{cl,lof}{o14}{671,319}{Raspuns\\la stimuli}
\nn{cl,lof}{o15}{680,330}{Contractie\\tonica}
\node[note] (o16) at (672,340) {Elasticitate\\Contractilitate\\Extensibilitate};
\nn{dm,lof,minimum width=19,minimum height=11}{o17}{665,354}{Contractie}
\nn{bx,lof}{o18}{688,354}{Secusa}
\nn{cl,lof}{o19}{690,343}{Tetanos}
\nn{cl,lof}{o20}{704,349}{Izotonica}
\nn{cl,lof}{o21}{704,358}{Izometrica}
\nn{dm,pof,minimum width=19,minimum height=11}{o22}{666,366}{Neted}
\nn{el,pof,minimum width=15}{o23}{646,375}{Striat}
\nn{dm,pof,minimum width=19,minimum height=15}{o24}{665,383}{Scheletic\\voluntar}
\nn{dm,pof,minimum width=19,minimum height=11}{o25}{643,395}{Cardiac}
\nn{el,pof,minimum width=16}{o26}{624,387}{Tipuri}
\nn{cl,lof}{o27}{598,394}{Miofibrile}
\nn{cl,lof}{o28}{618,399}{Actina\\miozina}
\Edges{o0/o1,o1/o2,o1/o3,o1/o4,o2/o5,o3/o6,o4/o7,o0/o8,o0/o9,o9/o10,o10/o11,o11/o12,o11/o13,o12/o14,o13/o15,o11/o16,o11/o17,o17/o18,o18/o19,o18/o20,o18/o21,o11/o22,o26/o23,o23/o22,o23/o24,o26/o25,o26/o27,o26/o28}
\begin{pgfonlayer}{bg}
\draw[conn] (o9.south) .. controls (603,380) and (610,387) .. (o26.west);
\end{pgfonlayer}

\end{tikzpicture}
\end{document}
